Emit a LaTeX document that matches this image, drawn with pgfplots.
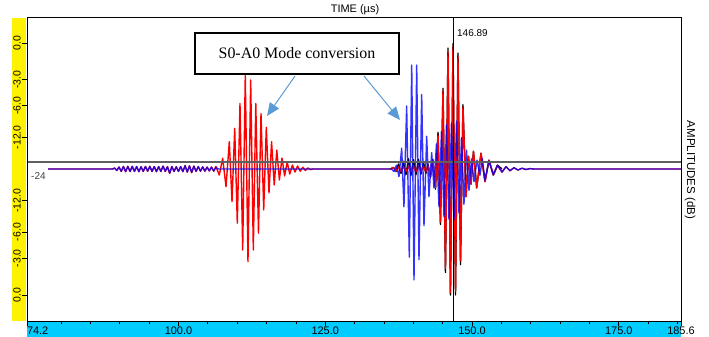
\documentclass[border=0pt]{standalone}
\usepackage{pgfplots}
\pgfplotsset{compat=1.18}
\usepackage{fontspec}
\setmainfont{Liberation Serif}
\setsansfont{Liberation Sans}
\usetikzlibrary{arrows.meta}
\definecolor{cyanstrip}{RGB}{0,204,255}
\definecolor{arrowblue}{RGB}{91,155,213}
\definecolor{gateline}{RGB}{95,95,95}
\definecolor{wavered}{RGB}{255,0,0}
\definecolor{waveblue}{RGB}{0,0,255}
\begin{document}
\begin{tikzpicture}
\path[use as bounding box] (-27bp,-16bp) rectangle (682bp,321bp);
\fill[yellow] (-15bp,0bp) rectangle (-1bp,303bp);
\fill[cyanstrip] (0bp,-1bp) rectangle (654bp,-16bp);
\begin{axis}[
  at={(0,0)}, anchor=south west,
  scale only axis, width=654bp, height=303bp,
  xmin=74.2, xmax=185.6, ymin=-1.206, ymax=1.198,
  axis line style={black, line width=1bp},
  xtick={74.2,100,125,150,175,185.6},
  xticklabels={\makebox[0pt][l]{74.2},100.0,125.0,150.0,175.0,185.6},
  minor xtick={80,85,90,95,105,110,115,120,130,135,140,145,155,160,165,170,180,185},
  ytick={-1,-0.708,-0.501,-0.251,0.251,0.501,0.708,1},
  yticklabels={0.0,-3.0,-6.0,-12.0,-12.0,-6.0,-3.0,0.0},
  tick align=outside,
  xtick pos=bottom, ytick pos=left,
  major tick length=5bp, minor tick length=3bp,
  tick style={black, line width=0.7bp},
  xticklabel style={font=\sffamily\fontsize{11}{11}\selectfont, inner sep=1bp},
  yticklabel style={font=\sffamily\fontsize{10.5}{10.5}\selectfont, rotate=90, anchor=south, inner sep=1bp},
  /pgf/number format/assume math mode=true,
  axis on top,
  clip=true,
]
% black waveform (mostly under red and blue)
\addplot[black, line width=1.4bp, line join=round] coordinates {
(136.03,0)
(136.63,0.012) (137.05,-0.02) (137.48,0.04) (137.90,-0.035) (138.33,0.06) (138.75,-0.045)
(139.18,0.08) (139.60,-0.05) (140.03,0.075) (140.45,-0.045) (140.88,0.075) (141.30,-0.04)
(141.73,0.055) (142.15,-0.035) (142.50,0.04) (142.93,-0.065) (143.35,0.075) (143.78,-0.16)
(144.21,0.29) (144.63,-0.44) (145.06,0.64) (145.48,-0.82) (145.91,0.96) (146.33,-1.0)
(146.76,0.995) (147.19,-1.0) (147.61,0.92) (148.04,-0.76) (148.46,0.51) (148.98,-0.22)
(149.40,0.10) (149.83,-0.12) (150.25,0.14) (150.80,-0.15) (151.53,0.125) (152.21,-0.10)
(152.89,0.07) (153.63,-0.048) (154.34,0.03) (155.11,0)
};
% red waveform
\addplot[wavered, line width=1.4bp, line join=round] coordinates {
(77.78,0) (88.80,0)
(89.125,0.008) (89.50,-0.012) (89.875,0.016) (90.25,-0.02) (90.625,0.02) (91.00,-0.022)
(91.375,0.022) (91.75,-0.02) (92.125,0.022) (92.50,-0.02) (92.875,0.02) (93.25,-0.022)
(93.625,0.018) (94.00,-0.02) (94.375,0.02) (94.75,-0.018) (95.125,0.022) (95.50,-0.02)
(95.875,0.02) (96.25,-0.022) (96.625,0.02) (97.00,-0.02) (97.375,0.024) (97.75,-0.02)
(98.125,0.018) (98.50,-0.035) (98.875,0.02) (99.25,-0.02) (99.625,0.018) (100.00,-0.02)
(100.375,0.02) (100.75,-0.022) (101.125,0.028) (101.50,-0.025) (101.875,0.026) (102.25,-0.03)
(102.625,0.024) (103.00,-0.02) (103.375,0.02) (103.75,-0.018) (104.125,0.018) (104.50,-0.018)
(104.875,0.016) (105.25,-0.016) (105.625,0.016) (106.00,-0.018) (106.375,0.02)
(106.95,-0.048) (107.53,0.085) (108.10,-0.14) (108.66,0.217) (109.12,-0.26) (109.58,0.323)
(110.02,-0.43) (110.48,0.52) (110.94,-0.643) (111.38,0.746) (111.84,-0.736) (112.30,0.706)
(112.75,-0.643) (113.17,0.52) (113.63,-0.51) (114.06,0.44) (114.52,-0.325) (114.96,0.33)
(115.42,-0.19) (115.86,0.217) (116.31,-0.127) (116.75,0.15) (117.19,-0.087) (117.63,0.087)
(118.08,-0.055) (118.52,0.055) (118.96,-0.04) (119.41,0.032) (119.85,-0.024) (120.29,0.024)
(120.73,-0.018) (121.18,0.014) (121.62,-0.012) (122.06,0.008) (122.50,-0.005) (122.90,0)
(136.20,0)
(136.63,0.012) (137.05,-0.015) (137.48,0.016) (137.90,-0.018) (138.33,0.018) (138.75,-0.02)
(139.18,0.02) (139.60,-0.02) (140.03,0.02) (140.45,-0.02) (140.88,0.02) (141.30,-0.022)
(141.73,0.022) (142.15,-0.025) (142.50,0.03) (142.93,-0.06) (143.35,0.07) (143.78,-0.15)
(144.21,0.27) (144.63,-0.42) (145.06,0.62) (145.48,-0.79) (145.91,0.93) (146.33,-0.98)
(146.76,0.97) (147.19,-0.97) (147.61,0.89) (148.04,-0.73) (148.46,0.49) (148.98,-0.22)
(149.40,0.10) (149.83,-0.12) (150.25,0.14) (150.80,-0.15) (151.53,0.125) (152.21,-0.10)
(152.89,0.07) (153.63,-0.048) (154.34,0.03) (155.11,-0.025) (155.79,0.018) (156.47,-0.014)
(157.15,0.01) (157.83,-0.008) (158.51,0.006) (159.19,-0.004) (159.88,0.003) (160.56,0)
(185.6,0)
};
% blue waveform
\addplot[waveblue, line width=1.4bp, line join=round, draw opacity=0.8] coordinates {
(77.78,0) (88.80,0)
(89.125,0.007) (89.50,-0.011) (89.875,0.015) (90.25,-0.018) (90.625,0.019) (91.00,-0.02)
(91.375,0.02) (91.75,-0.019) (92.125,0.02) (92.50,-0.018) (92.875,0.019) (93.25,-0.02)
(93.625,0.017) (94.00,-0.018) (94.375,0.019) (94.75,-0.017) (95.125,0.02) (95.50,-0.018)
(95.875,0.018) (96.25,-0.02) (96.625,0.018) (97.00,-0.018) (97.375,0.022) (97.75,-0.018)
(98.125,0.017) (98.50,-0.032) (98.875,0.018) (99.25,-0.018) (99.625,0.017) (100.00,-0.018)
(100.375,0.018) (100.75,-0.02) (101.125,0.025) (101.50,-0.023) (101.875,0.024) (102.25,-0.027)
(102.625,0.022) (103.00,-0.018) (103.375,0.018) (103.75,-0.016) (104.125,0.016) (104.50,-0.016)
(104.875,0.014) (105.25,-0.014) (105.625,0.014) (106.00,-0.015) (106.375,0.012) (106.80,0)
(136.03,0) (136.29,0.0)
(136.71,-0.02) (137.14,0.03) (137.56,-0.06) (138.02,0.165) (138.41,-0.30) (138.87,0.50)
(139.32,-0.70) (139.73,0.825) (140.12,-0.88) (140.58,0.825) (140.97,-0.72) (141.43,0.59)
(141.82,-0.45) (142.28,0.26) (142.67,-0.22) (143.13,0.13) (143.52,-0.15) (143.95,0.20)
(144.38,-0.30) (144.80,0.30) (145.23,-0.38) (145.65,0.35) (146.08,-0.40) (146.50,0.36)
(146.93,-0.40) (147.36,0.38) (147.78,-0.35) (148.21,0.25) (148.63,-0.28) (149.06,0.15)
(149.49,-0.17) (149.91,0.08) (150.34,-0.10) (150.85,0.07) (151.35,-0.05) (151.75,0.08)
(152.21,-0.09) (152.89,0.065) (153.63,-0.045) (154.34,0.03) (155.11,-0.024) (155.79,0.018)
(156.47,-0.013) (157.15,0.01) (157.83,-0.008) (158.51,0.006) (159.19,-0.004) (159.88,0.003)
(160.56,0) (185.6,0)
};
% gate line
\addplot[gateline, line width=1.3bp] coordinates {(74.2,0.056) (185.6,0.056)};
% cursor
\addplot[black, line width=0.9bp] coordinates {(146.89,-1.206) (146.89,1.198)};
\end{axis}
% labels
\node[font=\sffamily\fontsize{11}{11}\selectfont] at (328bp,311bp) {TIME (µs)};
\node[font=\sffamily\fontsize{11.5}{11.5}\selectfont, rotate=-90] at (663bp,151bp) {AMPLITUDES (dB)};
\node[font=\sffamily\fontsize{10}{10}\selectfont, anchor=west, inner sep=0pt] at (430bp,288bp) {146.89};
\node[font=\sffamily\fontsize{10}{10}\selectfont, text=black!75, anchor=west, inner sep=0pt] at (4bp,145bp) {-24};
% annotation
\node[draw=black, line width=1.2bp, fill=white, minimum width=204bp, minimum height=41bp, inner sep=0pt,
      font=\fontsize{16}{16}\selectfont] at (270bp,267.5bp) {S0-A0 Mode conversion};
\draw[arrowblue, line width=1bp, -{Triangle[length=13bp,width=11bp]}] (268bp,245bp) -- (240bp,205bp);
\draw[arrowblue, line width=1bp, -{Triangle[length=13bp,width=11bp]}] (337bp,245bp) -- (373bp,201bp);
\end{tikzpicture}
\end{document}
